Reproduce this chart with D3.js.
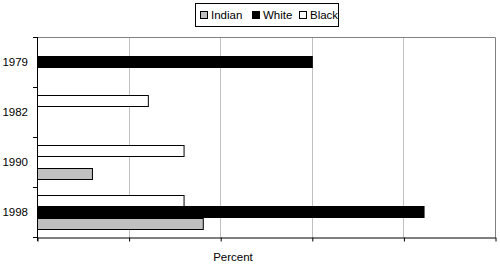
<!DOCTYPE html>
<html lang="en">
<head>
<meta charset="UTF-8">
<title>Percent by year</title>
<script src="https://cdn.jsdelivr.net/npm/d3@7"></script>
<style>
    body { margin: 0; background: #fff; }
    text { font-family: "Liberation Sans", Arial, sans-serif; font-size: 11.5px; fill: #000; }
</style>
</head>
<body>
<svg id="chart" width="500" height="264"></svg>
<script>
    const years = ["1979", "1982", "1990", "1998"];
    const groups = ["Black", "White", "Indian"]; // top to bottom in each band
    const legendOrder = ["Indian", "White", "Black"];
    const indian = [0, 0, 6, 18.1];
    const white = [30, 0, 0, 42.2];
    const black = [0, 12.1, 16, 16];
    const xTicks = [0, 10, 20, 30, 40, 50];

    const colors = { Indian: "#c0c0c0", White: "#000000", Black: "#ffffff" };
    const values = { Indian: indian, White: white, Black: black };

    const svg = d3.select("#chart");
    const plotL = 37, plotR = 495, plotT = 37, plotB = 237;

    const x = d3.scaleLinear().domain([0, 50]).range([plotL, plotR]);
    const y = d3.scaleBand().domain(years).range([plotT, plotB]);
    const inner = d3.scaleBand().domain(groups).range([0, y.bandwidth()]).paddingOuter(0.75).paddingInner(0);

    // gridlines
    svg.append("g").selectAll("line")
        .data(xTicks.slice(1, -1))
        .join("line")
        .attr("x1", d => Math.round(x(d)) + 0.5).attr("x2", d => Math.round(x(d)) + 0.5)
        .attr("y1", plotT).attr("y2", plotB)
        .attr("stroke", "#c0c0c0");

    // plot frame (top and right)
    svg.append("path")
        .attr("d", `M${plotL},${plotT + 0.5}H${plotR + 0.5}V${plotB}`)
        .attr("fill", "none")
        .attr("stroke", "#808080");

    // bars
    const rows = [];
    years.forEach((yr, i) => groups.forEach(g => {
        if (values[g][i] > 0) rows.push({ year: yr, group: g, value: values[g][i] });
    }));

    svg.append("g").selectAll("rect")
        .data(rows)
        .join("rect")
        .attr("x", x(0) + 0.5)
        .attr("y", d => Math.round(y(d.year) + inner(d.group)) + 0.5)
        .attr("width", d => x(d.value) - x(0))
        .attr("height", Math.round(inner.bandwidth()))
        .attr("fill", d => colors[d.group])
        .attr("stroke", "#000");

    // x axis
    const xAxis = svg.append("g")
        .attr("transform", `translate(0.5,${plotB + 0.5})`)
        .call(d3.axisBottom(x).tickValues(xTicks).tickSize(4).tickSizeOuter(0).tickFormat(""));
    xAxis.select(".domain").attr("stroke", "#000");
    xAxis.selectAll(".tick line").attr("stroke", "#000");

    // y axis with ticks at band boundaries
    const yAxis = svg.append("g").attr("transform", `translate(${plotL},0)`);
    yAxis.append("line")
        .attr("x1", 0.5).attr("x2", 0.5)
        .attr("y1", plotT).attr("y2", plotB + 4)
        .attr("stroke", "#000");
    yAxis.selectAll("line.tk")
        .data(years.map(d => y(d)).concat([plotB]))
        .join("line")
        .attr("class", "tk")
        .attr("x1", -4).attr("x2", 0.5)
        .attr("y1", d => Math.round(d) + 0.5).attr("y2", d => Math.round(d) + 0.5)
        .attr("stroke", "#000");
    yAxis.selectAll("text")
        .data(years)
        .join("text")
        .attr("x", -9)
        .attr("y", d => y(d) + y.bandwidth() / 2)
        .attr("dy", "0.35em")
        .attr("text-anchor", "end")
        .text(d => d);

    // axis title
    svg.append("text")
        .attr("x", 233).attr("y", 261)
        .attr("text-anchor", "middle")
        .text("Percent");

    // legend
    const lg = svg.append("g").attr("transform", "translate(195,3)");
    lg.append("rect")
        .attr("x", 0.5).attr("y", 0.5)
        .attr("width", 143).attr("height", 23)
        .attr("fill", "#fff").attr("stroke", "#000");
    const offsets = [5, 57, 104];
    legendOrder.forEach((g, i) => {
        const item = lg.append("g").attr("transform", `translate(${offsets[i]},0)`);
        item.append("rect")
            .attr("x", 0.5).attr("y", 8.5)
            .attr("width", 7).attr("height", 7)
            .attr("fill", colors[g]).attr("stroke", "#000");
        item.append("text")
            .attr("x", 11).attr("y", 12)
            .attr("dy", "0.35em")
            .text(g);
    });
</script>
</body>
</html>
